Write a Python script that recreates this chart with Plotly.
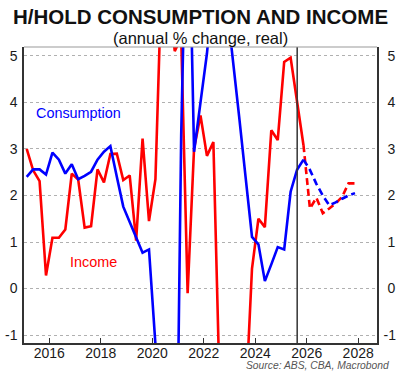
import plotly.graph_objects as go

# Quarterly periods, Q1 2015 .. Q4 2027 (decimal year, mid-quarter)
start_year = 2015
n_quarters = 52
quarters = [start_year + 0.125 + 0.25 * i for i in range(n_quarters)]

consumption_actual = [2.40, 2.56, 2.56, 2.45, 2.92, 2.77, 2.47, 2.67, 2.35, 2.42,
                      2.51, 2.77, 2.94, 3.06, 2.40, 1.76, 1.43, 1.08, 0.77, 0.84,
                      -1.2, -12.5, -8.0, -7.6, 3.3, 9.6, 2.94, 4.0, 5.05, 6.5,
                      6.6, 6.2, 5.0, 3.7, 2.4, 1.11, 0.95, 0.16, 0.52, 0.89,
                      0.84, 2.08, 2.55, 2.77]
income_actual = [3.00, 2.54, 2.31, 0.28, 1.09, 1.09, 1.27, 2.47, 2.34, 1.31,
                 1.34, 2.56, 2.28, 2.89, 2.90, 2.33, 2.43, 1.03, 3.22, 1.45,
                 2.35, 6.9, 6.5, 5.1, 5.4, -0.1, 3.01, 3.72, 2.85, 3.15,
                 -2.3, -3.2, -3.6, -3.0, -2.5, 0.43, 1.50, 1.32, 3.40, 3.19,
                 4.87, 4.96, 4.0, 3.08]
consumption_forecast = [2.77, 2.55, 2.25, 2.0, 1.79, 1.85, 1.93, 2.0, 2.05]
income_forecast = [3.08, 1.72, 1.95, 1.62, 1.72, 1.83, 1.97, 2.26, 2.26]

y_ticks = [-1, 0, 1, 2, 3, 4, 5]
x_ticks = [2016, 2018, 2020, 2022, 2024, 2026, 2028]
marker_line_x = 2025.63

n_act = len(consumption_actual)
x_act = quarters[:n_act]
x_fc = quarters[n_act - 1:n_act - 1 + len(consumption_forecast)]

BLUE = "#0000ff"
RED = "#ff0000"
FONT = "Liberation Sans, Arial, sans-serif"

fig = go.Figure()
fig.add_trace(go.Scatter(x=x_act, y=income_actual, mode="lines",
                         line=dict(color=RED, width=2.6), showlegend=False))
fig.add_trace(go.Scatter(x=x_act, y=consumption_actual, mode="lines",
                         line=dict(color=BLUE, width=2.6), showlegend=False))
fig.add_trace(go.Scatter(x=x_fc, y=income_forecast, mode="lines",
                         line=dict(color=RED, width=2.6, dash="7px,4px"), showlegend=False))
fig.add_trace(go.Scatter(x=x_fc, y=consumption_forecast, mode="lines",
                         line=dict(color=BLUE, width=2.6, dash="7px,4px"), showlegend=False))
# invisible trace to activate right axis
fig.add_trace(go.Scatter(x=[quarters[0]], y=[0], yaxis="y2", mode="lines",
                         line=dict(width=0), showlegend=False, hoverinfo="skip"))

yr = [-1.17, 5.19]
fig.update_layout(
    width=400, height=379,
    margin=dict(l=24, r=23.3, t=47, b=36.3, autoexpand=False),
    paper_bgcolor="white", plot_bgcolor="white",
    font=dict(family=FONT, size=14, color="#1a1a1a"),
    xaxis=dict(range=[2015.02, 2028.73], tickvals=x_ticks,
               ticktext=[str(v) for v in x_ticks], automargin=False,
               ticks="inside", ticklen=5, tickcolor="#333", tickwidth=1,
               showgrid=False, showline=True, linecolor="#333", linewidth=1.5,
               mirror=False, zeroline=False, tickfont=dict(size=14),
               ticklabelstandoff=-4),
    yaxis=dict(range=yr, tickvals=y_ticks, ticktext=[str(v) for v in y_ticks],
               showgrid=True, gridcolor="#b0b0b0", griddash="dot", gridwidth=1,
               showline=True, linecolor="#333", linewidth=1.5, ticks="",
               automargin=False,
               zeroline=False, tickfont=dict(size=14), ticklabelstandoff=2),
    yaxis2=dict(range=yr, tickvals=y_ticks, automargin=False,
                ticktext=[("\u00a0" + str(v)) if v >= 0 else str(v) for v in y_ticks],
                overlaying="y", side="right", showgrid=False,
                showline=True, linecolor="#333", linewidth=1.5, ticks="",
                zeroline=False, tickfont=dict(size=14), ticklabelstandoff=2),
    shapes=[
        dict(type="line", xref="x", yref="paper", x0=marker_line_x, x1=marker_line_x,
             y0=0, y1=1, line=dict(color="#333", width=1.5)),
        dict(type="line", xref="paper", yref="paper", x0=0, x1=1, y0=1, y1=1,
             line=dict(color="#999", width=1)),
    ],
    annotations=[
        dict(text="<b>H/HOLD CONSUMPTION AND INCOME</b>", xref="paper", yref="paper",
             x=0.5, y=1.1025, xanchor="center", yanchor="middle", showarrow=False,
             font=dict(size=20.5, color="#111", family=FONT)),
        dict(text="(annual % change, real)", xref="paper", yref="paper",
             x=0.5, y=1.031, xanchor="center", yanchor="middle", showarrow=False,
             font=dict(size=16.5, color="#111", family=FONT)),
        dict(text="Consumption", x=2017.13, y=3.78, xref="x", yref="y",
             showarrow=False, font=dict(size=14.4, color=BLUE, family=FONT)),
        dict(text="Income", x=2017.70, y=0.57, xref="x", yref="y",
             showarrow=False, font=dict(size=14.4, color=RED, family=FONT)),
        dict(text="<i>Source: ABS, CBA, Macrobond</i>", xref="paper", yref="paper",
             x=1.0397, y=-0.075, xanchor="right", yanchor="middle", showarrow=False,
             font=dict(size=10.3, color="#555", family=FONT)),
    ],
)

fig.write_html("out.html", config={"displayModeBar": False},
               post_script="document.body.style.margin='0';document.body.style.overflow='hidden';")
